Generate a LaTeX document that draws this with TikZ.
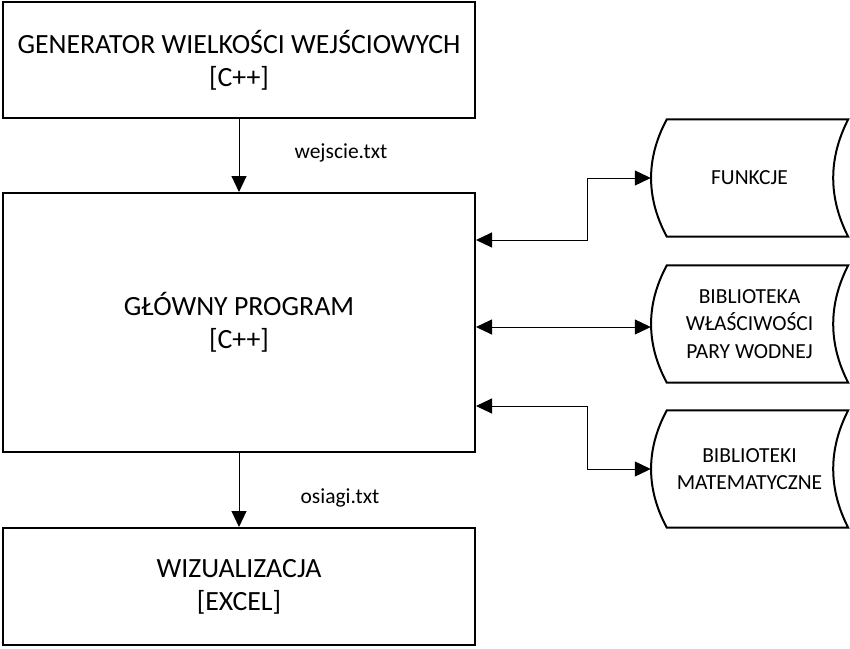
\documentclass[tikz,border=0pt]{standalone}
\usepackage{fontspec}
\setmainfont{Carlito}
\usetikzlibrary{arrows.meta,calc}
\begin{document}
\begin{tikzpicture}[x=1pt,y=-1pt,
 box/.style={draw, line width=2pt, minimum width=472pt, align=center, font=\fontsize{27.8}{33}\selectfont, inner sep=0pt},
 store/.style={minimum width=197pt, minimum height=117pt, align=center, font=\fontsize{21.5}{27.5}\selectfont, inner sep=0pt},
 storeline/.style={line width=2pt},
 lbl/.style={font=\fontsize{21.5}{26}\selectfont, inner sep=0pt},
 conn/.style={line width=1pt, -{Triangle[length=16pt,width=15pt]}},
 biconn/.style={line width=1pt, {Triangle[length=16pt,width=15pt]}-{Triangle[length=16pt,width=15pt]}},
]
\useasboundingbox (0,0) rectangle (850,648);
\node[box, minimum height=116pt] (g) at (239,60) {GENERATOR WIELKOŚCI WEJŚCIOWYCH\\{}[C++]};
\node[box, minimum height=259pt] (m) at (239,322.5) {GŁÓWNY PROGRAM\\{}[C++]};
\node[box, minimum height=117pt] (v) at (239,586.5) {WIZUALIZACJA\\{}[EXCEL]};

\node[store] (f) at (749.5,178) {FUNKCJE};
\node[store] (p) at (749.5,324) {BIBLIOTEKA\\WŁAŚCIWOŚCI\\PARY WODNEJ};
\node[store] (b) at (749.5,469) {BIBLIOTEKI\\MATEMATYCZNE};
\foreach \n in {f,p,b}{
  \draw[storeline] ($(\n.north west)+(16,0)$) -- (\n.north east)
    .. controls ($(\n.north east)+(-20,39)$) and ($(\n.south east)+(-20,-39)$) .. (\n.south east)
    -- ($(\n.south west)+(16,0)$)
    .. controls ($(\n.south west)+(-5,-39)$) and ($(\n.north west)+(-5,39)$) .. cycle;
}

\draw[conn] (g.south) -- (m.north);
\draw[conn] (m.south) -- (v.north);
\node[lbl] (l1) at (341,153) {wejscie.txt};
\node[lbl] (l2) at (340,498) {osiagi.txt};

\draw[biconn] ([yshift=82.5pt]m.east) -| ([xshift=-63pt]f.west) -- (f.west);
\draw[biconn] ([yshift=-3pt]p.west -| m.east) -- ([yshift=-3pt]p.west);
\draw[biconn] ([yshift=-83.5pt]m.east) -| ([xshift=-63pt]b.west) -- (b.west);
\end{tikzpicture}
\end{document}
